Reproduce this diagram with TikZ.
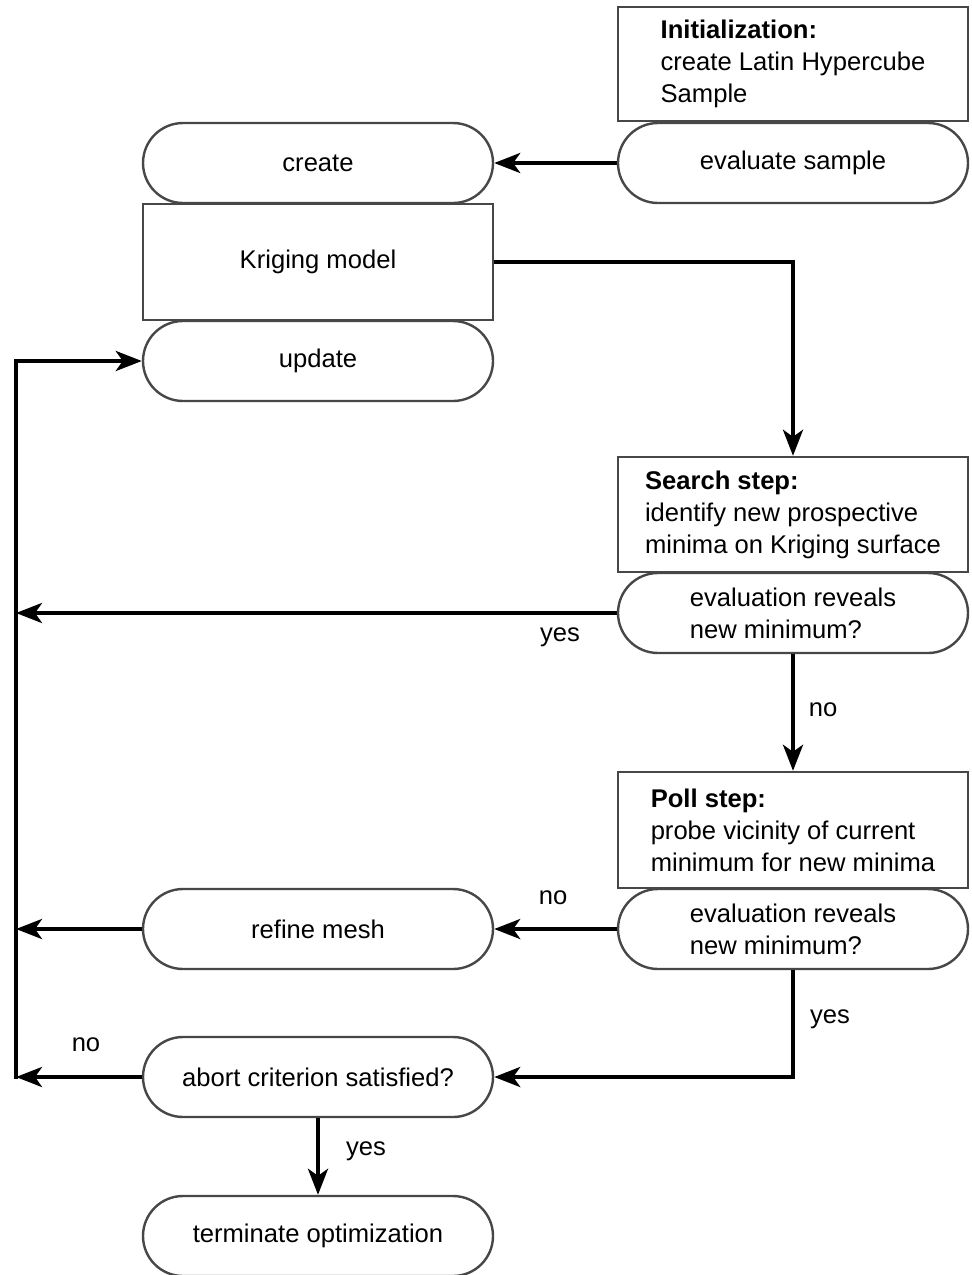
\documentclass[tikz,border=0pt]{standalone}
\usepackage{fontspec}
\setmainfont{Liberation Sans}
\usetikzlibrary{arrows.meta}
\begin{document}
\begin{tikzpicture}[x=1pt,y=-1pt,
  every node/.style={font=\fontsize{25.6}{32}\selectfont, text=black},
  box/.style={draw=black!72, line width=2.4pt, fill=white, minimum width=350pt, minimum height=115pt, inner sep=0pt, align=left},
  pill/.style={draw=black!72, line width=2.4pt, fill=white, minimum width=350pt, minimum height=80pt, rounded corners=40pt, inner sep=0pt, align=left},
  conn/.style={draw=black, line width=4pt, -{Stealth[length=26pt,width=20pt,inset=7pt]}},
  line/.style={draw=black, line width=4pt},
  lbl/.style={inner sep=0pt}
]
\useasboundingbox (0,0) rectangle (972,1275);

% nodes
\node[box, minimum height=114pt] (init) at (793,64) {\textbf{Initialization:}\\create Latin Hypercube\\Sample};
\node[pill] (evals) at (793,163) {evaluate sample};
\node[pill] (create) at (318,163) {create};
\node[box, minimum height=116pt] (krig) at (318,262) {Kriging model};
\node[pill] (update) at (318,361) {update};
\node[box] (search) at (793,514.5) {\textbf{Search step:}\\identify new prospective\\minima on Kriging surface};
\node[pill] (eval1) at (793,613) {evaluation reveals\\new minimum?};
\node[box, minimum height=116pt] (poll) at (793,830) {\textbf{Poll step:}\\probe vicinity of current\\minimum for new minima};
\node[pill] (eval2) at (793,929) {evaluation reveals\\new minimum?};
\node[pill] (refine) at (318,929) {refine mesh};
\node[pill] (abort) at (318,1077) {abort criterion satisfied?};
\node[pill] (term) at (318,1236) {terminate optimization};

% rail coordinates
\coordinate (rtop) at (16,361);
\coordinate (r1) at (16,613);
\coordinate (r2) at (16,929);
\coordinate (r3) at (16,1077);

% connectors
\draw[conn] (evals.west) -- (create.east);
\draw[conn] (krig.east) -| (search.north);
\draw[conn] (eval1.west) -- (r1);
\draw[conn] (eval1.south) -- (poll.north);
\draw[conn] (eval2.west) -- (refine.east);
\draw[conn] (refine.west) -- (r2);
\draw[conn] (eval2.south) |- (abort.east);
\draw[conn] (abort.west) -- (r3);
\draw[conn] (abort.south) -- (term.north);
\draw[line, line cap=rect] (r3) -- (rtop);
\draw[conn] (rtop) -- (update.west);

% labels
\node[lbl] (l1) at (560,637) {yes};
\node[lbl] (l2) at (823,710) {no};
\node[lbl] (l3) at (553,898) {no};
\node[lbl] (l4) at (830,1019) {yes};
\node[lbl] (l5) at (86,1045) {no};
\node[lbl] (l6) at (366,1151) {yes};
\end{tikzpicture}
\end{document}
